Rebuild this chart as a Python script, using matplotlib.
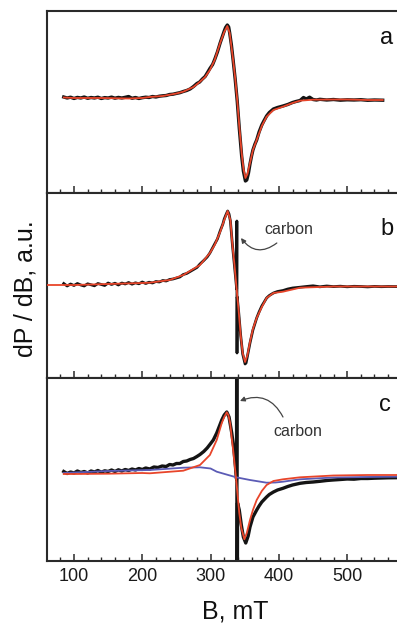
import matplotlib
matplotlib.use("Agg")
import matplotlib.pyplot as plt
from matplotlib.ticker import MultipleLocator

plt.rcParams['font.family'] = ['Liberation Sans', 'DejaVu Sans']

# ---------------- data (B in mT, dP/dB in a.u.) ----------------
# panel a
a_black_B = [85, 90, 95, 100, 105, 110, 115, 120, 125, 130, 135, 140, 145, 150, 155, 160, 165, 170, 175, 180,
             185, 190, 195, 200, 205, 210, 215, 220, 225, 230, 235, 240, 245, 250, 255, 260, 265, 270, 275, 280,
             284, 288, 292, 296, 299, 303, 306, 310, 314, 317, 320, 322, 324.5, 326.5, 328, 330.5, 333, 336, 339,
             342, 345.5, 348, 351, 353, 355.5, 357.7, 360, 362, 365, 367.5, 371, 375, 378, 382, 386, 392, 398, 406,
             413, 420, 425, 431, 436, 440, 445, 450, 455, 460, 470, 480, 490, 500, 510, 520, 530, 540, 552]
a_black_y = [1.0, 0.0, 0.8, -0.5, 0.6, 0.0, 1.0, -0.3, 0.5, 0.0, 0.8, -0.5, 0.4, 0.0, 0.9, -0.2, 0.6, 0.0, 0.7, 1.5,
             -0.3, 0.5, -0.5, 0.3, 0.8, 0.5, 1.5, 1.0, 1.8, 2.2, 2.5, 3.5, 3.8, 4.6, 5.3, 6.5, 7.5, 9.0, 11.5, 14.5,
             16.0, 19.0, 21.5, 26.0, 29.5, 33.5, 38.5, 46, 55, 61, 67, 70.5, 73, 71, 65, 53, 38, 19, -3,
             -30, -58, -73, -83, -82, -75, -66, -58, -52, -46, -42, -34, -27, -23, -18, -14.5, -11, -9.5, -8,
             -6.5, -4.5, -3.5, -2.5, 0.5, -1.0, 0.8, -1.5, -2.0, -1.3, -2.0, -1.5, -2.2, -1.8, -2.0, -1.7, -2.3, -2.0, -2.2]
a_red_B = [85, 100, 140, 180, 200, 211, 230, 250, 260, 275, 284.5, 292, 299, 306, 314, 320, 324.5, 328, 333, 336,
           339, 342, 345.5, 348, 351, 354, 357.7, 362, 367.5, 375, 382, 392, 406, 420, 431, 450, 480, 500, 530, 552]
a_red_y = [0.5, 0, 0, -0.5, 0, 1, 2, 4.5, 6.3, 11, 16.3, 21, 28, 38, 55, 66, 72, 65, 38, 20,
           -2, -28, -55, -70, -80, -76, -65, -52, -42, -28, -18.7, -12, -8.7, -5, -2.7, -1.7, -1.5, -1.5, -2, -2]

# panel b
b_black_B = [85, 90, 95, 100, 105, 110, 115, 120, 125, 130, 135, 140, 145, 150, 155, 160, 165, 170, 175, 180,
             185, 190, 195, 200, 205, 210, 215, 220, 225, 230, 235, 240, 245, 250, 255, 260, 265, 270, 275, 280,
             284.5, 290, 295, 299, 306, 310, 314, 318, 320, 323, 325, 327, 329, 332, 335, 338.2, 338.5, 338.7,
             339.0, 341, 344, 347, 350.5, 352, 354, 357.7, 362, 367.5, 371, 375, 382, 386, 392, 398, 406, 413,
             420, 431, 440, 450, 460, 470, 480, 490, 500, 510, 520, 530, 540, 550, 560, 573]
b_black_y = [1.5, -1.0, 1.0, -0.5, 1.5, 0.0, -1.0, 1.2, 0.2, -0.8, 1.5, 0.5, -0.5, 2.0, 0.5, 1.8, 0.0, 2.0, 1.0, 2.5,
             0.8, 2.2, 1.2, 3.0, 1.5, 2.8, 2.0, 3.5, 3.0, 4.5, 4.0, 5.5, 6.0, 7.0, 8.0, 10.5, 11.5, 13.5, 15.5, 17.5,
             21, 24.5, 28, 32, 41, 46, 54, 61, 66, 71, 74, 71, 64, 40, 19, -4, 64, -68,
             -12, -26, -50, -69, -79, -78, -71, -58, -45, -33, -27, -21, -13, -10.5, -8, -6.5, -5.5, -4,
             -3, -2.2, -1.5, -0.8, -1.8, -1.0, -1.6, -1.2, -1.8, -1.3, -1.5, -1.9, -1.4, -1.7, -1.5, -1.6]
b_red_B = [60.5, 100, 150, 200, 211, 240, 260, 284.5, 299, 306, 314, 320, 325, 329, 332, 335, 338, 341, 344, 347,
           350.5, 354, 357.7, 362, 367.5, 375, 382, 392, 406, 431, 480, 530, 600]
b_red_y = [0, 0, 1, 2, 2.3, 5, 10, 20, 32, 40, 53, 65, 74, 65, 40, 20, -3, -25, -50, -68,
           -77, -70, -57, -44, -33, -22, -13, -8, -6.7, -2.7, -1.5, -1.5, -1.5]

# panel c
c_black_B = [85, 90, 95, 100, 105, 110, 115, 120, 125, 130, 135, 140, 145, 150, 155, 160, 165, 170, 175, 180,
             185, 190, 195, 200, 205, 211, 217, 223, 229, 235, 240, 245, 250, 255, 260, 265, 270, 275, 280,
             284.5, 290, 295, 299, 304, 309, 313, 316.4, 320, 323.7, 327, 331, 334, 338.0, 338.5, 338.6, 339.5,
             342, 345, 348, 351.5, 355, 357.7, 362, 367.5, 371, 375, 382, 386, 392, 398, 406, 413, 420, 431,
             440, 450, 460, 470, 479, 490, 500, 510, 520, 530, 540, 550, 560, 573]
c_black_y = [1.5, -0.5, 1.0, 0.0, 2.0, 0.5, 1.5, 0.0, 2.0, 1.0, 2.5, 0.8, 2.2, 1.5, 3.0, 1.5, 3.2, 2.0, 3.5, 2.5,
             4.0, 3.0, 4.5, 3.5, 5.0, 4.0, 6.0, 5.5, 7.0, 6.5, 8.5, 8.0, 9.5, 9.5, 11.5, 12.0, 13.5, 14.5, 16.5,
             18.5, 21.5, 25, 28.5, 33, 40, 47, 53, 58, 61, 56, 40, 25, -6, 300, -300, -30,
             -37, -52, -64, -70, -63, -54, -44, -37, -33, -29, -24, -21.5, -19, -17, -15.3, -13.5, -12, -10.3,
             -9.5, -9, -8.3, -7.5, -7, -6.5, -6, -6.2, -5.5, -5.5, -5.2, -5.0, -4.8, -4.7]
c_red_B = [85, 100, 150, 200, 211, 260, 284.5, 299, 309, 316.4, 320, 323.7, 326, 328.6, 331, 333.5, 337.5, 342,
           345, 349.5, 353, 357.7, 362, 367.5, 375, 382, 392, 406, 431, 480, 530, 573]
c_red_y = [-1, -1, -0.7, 0, -0.3, 2.3, 8, 18, 33, 50, 56, 60.7, 58, 50, 35, 20, -7, -40,
           -55, -66.3, -60, -47, -37, -27, -18, -12, -8, -6.3, -4.3, -2.5, -2, -2]
c_blue_B = [85, 150, 211, 260, 284.5, 300, 309, 337.5, 357.7, 382, 395, 406, 431, 480, 530, 573]
c_blue_y = [0, 2, 3, 5.3, 5.7, 4.5, 1.3, -4.3, -7, -9.7, -9.5, -8.7, -6.3, -4.5, -4, -3.7]

x_ticks = [100, 200, 300, 400, 500]
panel_labels = ['a', 'b', 'c']

# ---------------- figure ----------------
W, H = 397, 624
fig = plt.figure(figsize=(W / 100, H / 100), dpi=100)

def fy(px):
    return 1 - px / H

left = 47 / W
width = (600 - 60.5) * 0.683 / W
panels = [(11, 193, (-95, 87)), (193, 378, (-93, 92)), (378, 561, (-88, 95))]

RED = '#e8452a'
BLACK = '#141414'
BLUE = '#5b5bb5'
SPINE = '#2a2a2a'

axes = []
for top, bot, ylim in panels:
    ax = fig.add_axes([left, fy(bot), width, (bot - top) / H])
    ax.set_xlim(60.5, 600)
    ax.set_ylim(*ylim)
    ax.set_yticks([])
    ax.xaxis.set_major_locator(MultipleLocator(100))
    ax.xaxis.set_minor_locator(MultipleLocator(20))
    ax.tick_params(axis='x', which='major', direction='in', length=5, width=1.1, color=SPINE,
                   labelsize=13, pad=5, labelcolor='#1a1a1a')
    ax.tick_params(axis='x', which='minor', direction='in', length=3, width=1.0, color=SPINE)
    for s in ax.spines.values():
        s.set_color(SPINE)
        s.set_linewidth(1.5)
    axes.append(ax)

axA, axB, axC = axes
axA.tick_params(axis='x', labelbottom=False)
axB.tick_params(axis='x', labelbottom=False)
axC.set_xticks(x_ticks)

axA.plot(a_black_B, a_black_y, color=BLACK, lw=2.4, zorder=2)
axA.plot(a_red_B, a_red_y, color=RED, lw=1.3, zorder=3)

axB.plot(b_black_B, b_black_y, color=BLACK, lw=2.0, zorder=2)
axB.plot(b_red_B, b_red_y, color=RED, lw=1.3, zorder=3)

axC.plot(c_black_B, c_black_y, color=BLACK, lw=2.4, zorder=2)
axC.plot(c_blue_B, c_blue_y, color=BLUE, lw=1.3, zorder=3)
axC.plot(c_red_B, c_red_y, color=RED, lw=1.3, zorder=4)

# annotations
arrow = dict(arrowstyle='-|>', color='#444444', lw=0.9, mutation_scale=7, shrinkA=0, shrinkB=0)
axB.text(415, 56, 'carbon', ha='center', va='center', fontsize=11.5, color='#333333')
axB.annotate('', xy=(344.5, 47), xytext=(397, 42),
             arrowprops=dict(arrow, connectionstyle='arc3,rad=-0.5'))
axC.text(428, 42, 'carbon', ha='center', va='center', fontsize=11.5, color='#333333')
axC.annotate('', xy=(343, 72), xytext=(406, 56),
             arrowprops=dict(arrow, connectionstyle='arc3,rad=0.45'))

for (px, py), lab in zip([(387, 38), (387, 229), (385, 405)], panel_labels):
    fig.text(px / W, fy(py), lab, ha='center', va='center', fontsize=17, color='#111111')

fig.text(25 / W, fy(289), 'dP / dB, a.u.', rotation=90, ha='center', va='center', fontsize=18, color='#111111')
fig.text(235 / W, fy(611), 'B, mT', ha='center', va='center', fontsize=18, color='#111111')

fig.savefig('out.png', dpi=100)
